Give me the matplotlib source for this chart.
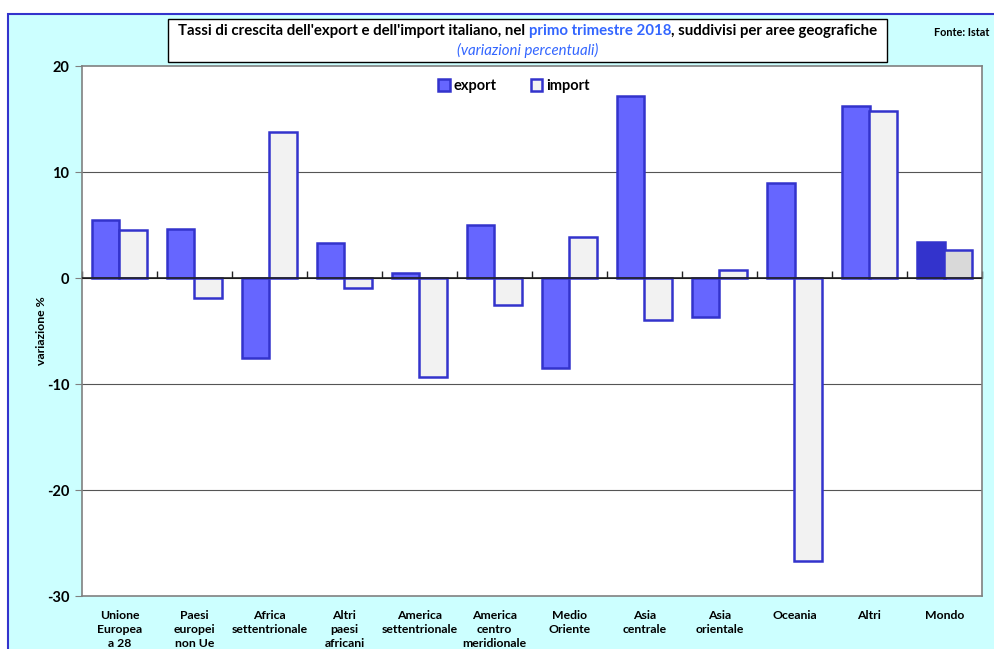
import numpy as np
import matplotlib.pyplot as plt
from matplotlib.patches import Rectangle

plt.rcParams['font.family'] = ['Lato', 'DejaVu Sans']

aree = ['Unione\nEuropea\na 28', 'Paesi\neuropei\nnon Ue', 'Africa\nsettentrionale',
        'Altri\npaesi\nafricani', 'America\nsettentrionale', 'America\ncentro\nmeridionale',
        'Medio\nOriente', 'Asia\ncentrale', 'Asia\norientale', 'Oceania', 'Altri', 'Mondo']
export = [5.5, 4.6, -7.5, 3.3, 0.5, 5.0, -8.5, 17.2, -3.7, 9.0, 16.2, 3.4]
imp = [4.5, -1.9, 13.8, -0.9, -9.3, -2.5, 3.9, -4.0, 0.8, -26.7, 15.8, 2.6]

W, H = 995, 649
fig = plt.figure(figsize=(W / 100, H / 100), dpi=100)
fig.patch.set_facecolor('white')

# sfondo azzurro con bordo blu
fig.patches.append(Rectangle((8 / W, -0.05), 1.1, (649 - 14) / H + 0.05, transform=fig.transFigure,
                             facecolor='#CCFFFF', edgecolor='#3333CC', linewidth=1.5, zorder=-10))

ax = fig.add_axes([82 / W, 53 / H, 900 / W, 530 / H])
ax.set_zorder(2)
ax.set_facecolor('white')

x = np.arange(len(aree))
bw = 0.365
exp_col = ['#6666FF'] * 11 + ['#3333CC']
imp_col = ['#F2F2F2'] * 11 + ['#D9D9D9']
ax.bar(x - bw / 2, export, bw, color=exp_col, edgecolor='#3333CC', linewidth=1.8, zorder=3, label='export')
ax.bar(x + bw / 2, imp, bw, color=imp_col, edgecolor='#3333CC', linewidth=1.8, zorder=3, label='import')

ax.set_xlim(-0.5, len(aree) - 0.5)
ax.set_ylim(-30, 20)
ax.set_yticks([-30, -20, -10, 0, 10, 20])
ax.set_yticklabels(['-30', '-20', '-10', '0', '10', '20'], fontsize=10.5, fontweight='bold')
for v in [-20, -10, 10]:
    ax.axhline(v, color='#555555', linewidth=0.8, zorder=1)
ax.axhline(0, color='#222222', linewidth=1.2, zorder=4)

ax.set_xticks(x)
ax.set_xticklabels(aree, fontsize=8.8, fontweight='bold', linespacing=1.35)
ax.tick_params(axis='x', length=0, pad=10)
ax.tick_params(axis='y', length=5, color='#808080', pad=4)
for s in ax.spines.values():
    s.set_color('#808080')
    s.set_linewidth(1.2)

sec = ax.secondary_xaxis(0.6)
sec.set_xticks(np.arange(-0.5, len(aree), 1.0))
sec.set_xticklabels([])
sec.tick_params(length=5, width=1, color='#222222', direction='out')
sec.spines['bottom'].set_visible(False)

ax.set_ylabel('variazione %', fontsize=8.8, fontweight='bold', labelpad=0)

leg = ax.legend(loc='upper center', bbox_to_anchor=(0.48, 1.0), ncol=2, frameon=False,
                fontsize=10.5, handlelength=0.8, handleheight=0.8, columnspacing=2.3, handletextpad=0.3)
for t in leg.get_texts():
    t.set_fontweight('bold')
leg.legend_handles[0].set_facecolor('#6666FF')
leg.legend_handles[1].set_facecolor('#F2F2F2')

# riquadro del titolo
fig.patches.append(Rectangle((168 / W, (649 - 62) / H), 719 / W, 43 / H, transform=fig.transFigure,
                             facecolor='white', edgecolor='black', linewidth=1, zorder=1))
parts = [("Tassi di crescita dell'export e dell'import italiano, nel ", 'black'),
         ("primo trimestre 2018", '#3366FF'),
         (", suddivisi per aree geografiche", 'black')]
fig.canvas.draw()
r = fig.canvas.get_renderer()
texts = []
for s, c in parts:
    t = fig.text(0, (649 - 31) / H, s, color=c, fontsize=10.8, fontweight='bold', va='center', zorder=2)
    texts.append(t)
widths = [t.get_window_extent(r).width for t in texts]
xs = 527.5 - sum(widths) / 2
for t, w in zip(texts, widths):
    t.set_x(xs / W)
    xs += w
fig.text(527.5 / W, (649 - 50) / H, '(variazioni percentuali)', color='#3366FF', fontsize=10.8,
         fontstyle='italic', ha='center', va='center', zorder=2)
fig.text(962 / W, (649 - 32) / H, 'Fonte: Istat', fontsize=7.8, fontweight='bold', ha='center', va='center')

fig.savefig('out.png', dpi=100)
